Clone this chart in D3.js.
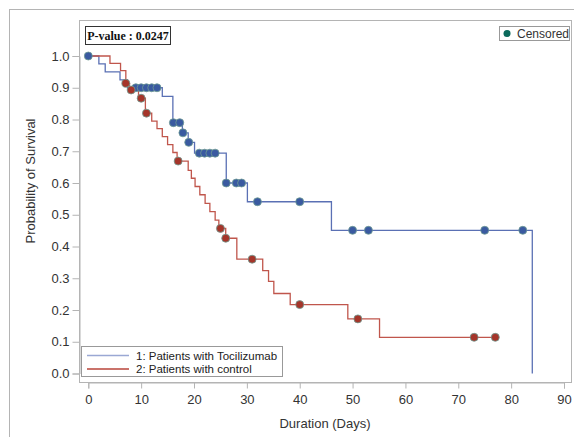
<!DOCTYPE html>
<html>
<head>
<meta charset="utf-8">
<script src="https://cdn.jsdelivr.net/npm/d3@7"></script>
<style>
  body { margin: 0; background: #fff; }
  text { font-family: "Liberation Sans", Arial, sans-serif; }
</style>
</head>
<body>
<div id="chart"></div>
<script>
// step data: time of each drop and survival after it
var blueTimes = [2, 3.2, 6, 7.4, 14, 16, 17.8, 18.9, 20.1, 26.1, 30.1, 46, 84];
var blueSurv  = [0.975, 0.95, 0.925, 0.90, 0.873, 0.79, 0.758, 0.728, 0.694, 0.60, 0.541, 0.451, 0];
var blueCensored = [0, 9, 10, 11, 12, 13, 16.1, 17.3, 17.9, 19, 21, 22, 23, 24, 26.1, 28, 29, 32, 40, 50, 53, 75, 82.2];
var blueEnd = 84;

var redTimes = [4.1, 6.1, 7.1, 7.8, 9.5, 10.8, 12, 13, 14, 15, 16, 16.8, 18.9, 19.5, 20.2, 21.1, 22.1, 23, 24, 24.7, 26, 28.1, 33, 34.1, 35.1, 38.2, 49.1, 55.1];
var redSurv  = [0.977, 0.954, 0.914, 0.893, 0.867, 0.82, 0.795, 0.771, 0.746, 0.721, 0.696, 0.669, 0.64, 0.615, 0.589, 0.563, 0.536, 0.51, 0.483, 0.457, 0.426, 0.36, 0.324, 0.29, 0.252, 0.217, 0.172, 0.114];
var redCensored = [7.1, 8.1, 10, 11, 17, 25, 26, 31, 40, 51, 73, 77];
var redEnd = 77;

var xTicks = [0, 10, 20, 30, 40, 50, 60, 70, 80, 90];
var yTicks = [0, 0.1, 0.2, 0.3, 0.4, 0.5, 0.6, 0.7, 0.8, 0.9, 1.0];
var groupNames = ["1: Patients with Tocilizumab", "2: Patients with control"];
var pValueText = "P-value : 0.0247";

var blueLine = "#5a70b4", blueDot = "#3a5aa0";
var redLine = "#c0564c", redDot = "#a5352a";
var frameCol = "#b4b4b4";

var W = 574, H = 437;
var plot = { left: 79, right: 571, top: 20, bottom: 382 };

var svg = d3.select("#chart").append("svg")
    .attr("width", W)
    .attr("height", H);

// outer frame
svg.append("rect")
    .attr("x", 9.5).attr("y", 9.5)
    .attr("width", W + 20).attr("height", H + 20)
    .attr("fill", "none")
    .attr("stroke", frameCol);

var x = d3.scaleLinear().domain([0, 90]).range([88.3, 564]);
var y = d3.scaleLinear().domain([0, 1]).range([373.5, 56]);

// plot area frame
svg.append("rect")
    .attr("x", plot.left + 0.5).attr("y", plot.top + 0.5)
    .attr("width", plot.right - plot.left).attr("height", plot.bottom - plot.top)
    .attr("fill", "none")
    .attr("stroke", frameCol);

var xAxis = svg.append("g")
    .attr("transform", "translate(0," + (plot.bottom + 0.5) + ")")
    .call(d3.axisBottom(x).tickValues(xTicks).tickSize(6).tickPadding(6).tickFormat(d3.format("d")));

var yAxis = svg.append("g")
    .attr("transform", "translate(" + (plot.left + 0.5) + ",0)")
    .call(d3.axisLeft(y).tickValues(yTicks).tickSize(7).tickPadding(3).tickFormat(d3.format(".1f")));

[xAxis, yAxis].forEach(function (ax) {
    ax.select(".domain").attr("stroke", frameCol);
    ax.selectAll(".tick line").attr("stroke", frameCol);
    ax.selectAll(".tick text")
        .attr("fill", "#333")
        .style("font-size", "13px")
        .style("font-family", "'Liberation Sans', Arial, sans-serif");
});

svg.append("text")
    .attr("x", (plot.left + plot.right) / 2)
    .attr("y", 428)
    .attr("text-anchor", "middle")
    .attr("fill", "#333")
    .style("font-size", "13px")
    .text("Duration (Days)");

svg.append("text")
    .attr("transform", "translate(35," + ((plot.top + plot.bottom) / 2 - 20) + ") rotate(-90)")
    .attr("text-anchor", "middle")
    .attr("fill", "#333")
    .style("font-size", "13px")
    .text("Probability of Survival");

/*
  builds step points from drop times and survival levels
*/
function stepPoints (times, surv, end) {
    var pts = [[0, 1]];
    times.forEach(function (t, i) {
        pts.push([t, surv[i]]);
    });
    var last = surv[surv.length - 1];
    var lastT = times[times.length - 1];
    if (end > lastT) {
        pts.push([end, last]);
    }
    return pts;
}

function survAt (times, surv, t) {
    var s = 1;
    for (var i = 0; i < times.length; i++) {
        if (times[i] <= t) {
            s = surv[i];
        }
    }
    return s;
}

var line = d3.line()
    .x(function (d) { return x(d[0]); })
    .y(function (d) { return y(d[1]); })
    .curve(d3.curveStepAfter);

svg.append("path")
    .datum(stepPoints(blueTimes, blueSurv, blueEnd))
    .attr("d", line)
    .attr("fill", "none")
    .attr("stroke", blueLine)
    .attr("stroke-width", 1.3);

svg.append("path")
    .datum(stepPoints(redTimes, redSurv, redEnd))
    .attr("d", line)
    .attr("fill", "none")
    .attr("stroke", redLine)
    .attr("stroke-width", 1.3);

function drawCensored (cens, times, surv, col) {
    svg.append("g").selectAll("circle")
        .data(cens)
        .enter().append("circle")
        .attr("cx", function (d) { return x(d); })
        .attr("cy", function (d) { return y(survAt(times, surv, d)); })
        .attr("r", 4)
        .attr("fill", col)
        .attr("stroke", "#6f9c93")
        .attr("stroke-width", 0.8);
}

drawCensored(blueCensored, blueTimes, blueSurv, blueDot);
drawCensored(redCensored, redTimes, redSurv, redDot);

// p-value box
var pBox = svg.append("g");
pBox.append("rect")
    .attr("x", 85.5).attr("y", 26.5)
    .attr("width", 85).attr("height", 18)
    .attr("fill", "#fff")
    .attr("stroke", "#333");
pBox.append("text")
    .attr("x", 128).attr("y", 40)
    .attr("text-anchor", "middle")
    .style("font-family", "'Liberation Serif', 'Times New Roman', serif")
    .style("font-weight", "bold")
    .style("font-size", "12px")
    .attr("fill", "#111")
    .text(pValueText);

// censored legend
var cLeg = svg.append("g");
cLeg.append("rect")
    .attr("x", 499.5).attr("y", 26.5)
    .attr("width", 70).attr("height", 14)
    .attr("fill", "#fff")
    .attr("stroke", "#999");
cLeg.append("circle")
    .attr("cx", 507).attr("cy", 33.5)
    .attr("r", 3.5)
    .attr("fill", "#0b6a5c");
cLeg.append("text")
    .attr("x", 517).attr("y", 38)
    .attr("fill", "#333")
    .style("font-size", "12px")
    .text("Censored");

// group legend
var gLeg = svg.append("g");
gLeg.append("rect")
    .attr("x", 81.5).attr("y", 346.5)
    .attr("width", 201).attr("height", 30)
    .attr("fill", "#fff")
    .attr("stroke", "#999");
[blueLine, redLine].forEach(function (col, i) {
    var yy = 355.5 + i * 13.5;
    gLeg.append("line")
        .attr("x1", 87).attr("x2", 129)
        .attr("y1", yy).attr("y2", yy)
        .attr("stroke", i == 0 ? "#9aa8d4" : "#b8453a")
        .attr("stroke-width", 1.3);
    gLeg.append("text")
        .attr("x", 136).attr("y", yy + 4)
        .attr("fill", "#222")
        .style("font-size", "11.5px")
        .text(groupNames[i]);
});
</script>
</body>
</html>
